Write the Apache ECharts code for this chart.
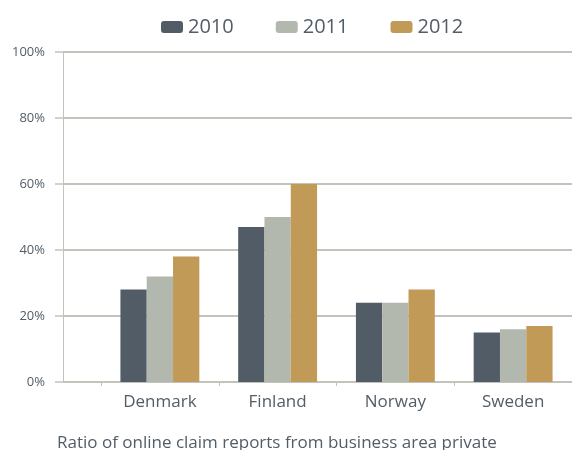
<!DOCTYPE html>
<html>
<head>
    <meta charset="UTF-8">
    <title>Online claim reports</title>
    <script src="https://cdn.jsdelivr.net/npm/echarts@6/dist/echarts.min.js"></script>
</head>
<body style="margin:0">
    <div id="main" style="width: 572px; height: 450px;"></div>
    <script type="text/javascript">
        // data
        const countries = ['Denmark', 'Finland', 'Norway', 'Sweden'];
        const years = ['2010', '2011', '2012'];
        const v2010 = [28, 47, 24, 15];
        const v2011 = [32, 50, 24, 16];
        const v2012 = [38, 60, 28, 17];
        const yTicks = [0, 20, 40, 60, 80, 100];

        const colors = ['#515c67', '#b3b8ae', '#c29a57'];
        const textColor = '#525d68';
        const lineColor = '#c2c3ba';
        const font = '"Open Sans", "Noto Sans", sans-serif';

        let chart = echarts.init(document.getElementById('main'));

        let option = {
            animation: false,
            color: colors,
            textStyle: { fontFamily: font },
            title: {
                text: 'Ratio of online claim reports from business area private',
                left: 52,
                top: 430,
                textStyle: { fontSize: 17, fontWeight: 'normal', color: textColor, fontFamily: font }
            },
            legend: {
                data: years,
                top: 12,
                left: 156,
                itemWidth: 22,
                itemHeight: 12,
                itemGap: 42,
                textStyle: { fontSize: 20, color: textColor, fontFamily: font }
            },
            grid: [
                { left: 63, right: 0, top: 52, bottom: 68 },
                { left: 101, right: 0, top: 52, bottom: 68 }
            ],
            xAxis: [
                {
                    gridIndex: 0, type: 'category', data: [''],
                    axisLine: { show: false }, axisTick: { show: false }, axisLabel: { show: false }
                },
                {
                    gridIndex: 1, type: 'category', data: countries,
                    axisLine: { show: false },
                    axisTick: { show: true, length: 4, lineStyle: { color: lineColor } },
                    axisLabel: { margin: 12, fontSize: 17, color: textColor, fontFamily: font }
                }
            ],
            yAxis: [
                {
                    gridIndex: 0, type: 'value', min: 0, max: 100, interval: 20,
                    axisLine: { show: true, lineStyle: { color: lineColor, width: 1 } },
                    axisTick: { show: true, length: 8, lineStyle: { color: lineColor, width: 1.5 } },
                    splitLine: { show: true, lineStyle: { color: lineColor, width: 2 } },
                    axisLabel: {
                        margin: 18, fontSize: 13, color: textColor, fontFamily: font,
                        formatter: v => yTicks.includes(v) ? v + '%' : ''
                    }
                },
                {
                    gridIndex: 1, type: 'value', min: 0, max: 100,
                    show: false
                }
            ],
            series: [
                { name: years[0], type: 'bar', xAxisIndex: 1, yAxisIndex: 1, data: v2010, barGap: '0%', barCategoryGap: '33%' },
                { name: years[1], type: 'bar', xAxisIndex: 1, yAxisIndex: 1, data: v2011, barGap: '0%', barCategoryGap: '33%' },
                { name: years[2], type: 'bar', xAxisIndex: 1, yAxisIndex: 1, data: v2012, barGap: '0%', barCategoryGap: '33%' }
            ]
        };

        chart.setOption(option);
    </script>
</body>
</html>
